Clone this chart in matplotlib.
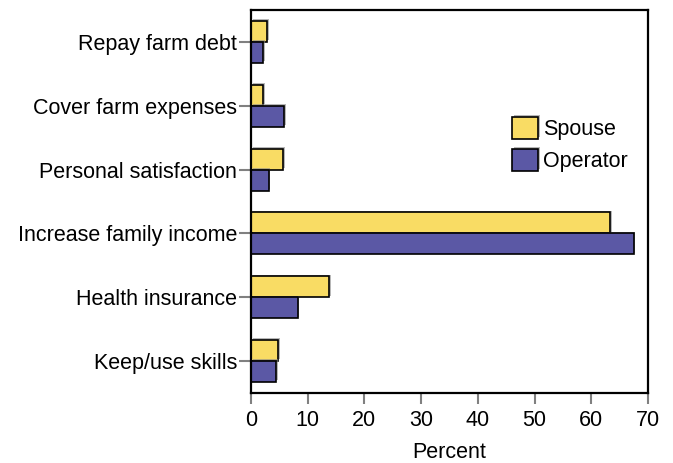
import matplotlib
matplotlib.use("Agg")
import matplotlib.pyplot as plt
import matplotlib.patheffects as pe
import numpy as np

plt.rcParams['font.family'] = ['Liberation Sans', 'DejaVu Sans']

categories = ["Repay farm debt", "Cover farm expenses", "Personal satisfaction",
              "Increase family income", "Health insurance", "Keep/use skills"]
spouse = [2.9, 2.2, 5.7, 63.3, 13.8, 4.8]
operator = [2.2, 5.8, 3.1, 67.5, 8.2, 4.4]
xticks = [0, 10, 20, 30, 40, 50, 60, 70]

yellow = "#F9DC64"
purple = "#5B58A5"

fig = plt.figure(figsize=(6.73, 4.63), dpi=100)
ax = fig.add_axes([251/673, 1-393/463, (648-251)/673, (393-10)/463])

y = np.arange(len(categories))
h = 0.33
shadow = [pe.SimplePatchShadow(offset=(1.2, 1.2), shadow_rgbFace='#888888', alpha=0.6), pe.Normal()]
b1 = ax.barh(y - h/2, spouse, height=h, color=yellow, edgecolor='black', linewidth=1.2,
             label="Spouse", path_effects=shadow)
b2 = ax.barh(y + h/2, operator, height=h, color=purple, edgecolor='black', linewidth=1.2,
             label="Operator", path_effects=shadow)

fs = 15.5
ax.set_ylim(len(categories) - 0.5, -0.5)
ax.set_xlim(0, 70)
ax.set_yticks(y)
ax.set_yticklabels(categories, fontsize=fs)
ax.set_xticks(xticks)
ax.set_xticklabels([str(t) for t in xticks], fontsize=fs)
ax.tick_params(axis='x', direction='out', length=8, width=1.5, color='#808080', pad=4)
ax.tick_params(axis='y', direction='out', length=9, width=1.5, color='#808080', pad=1)
for s in ax.spines.values():
    s.set_linewidth(1.6)
    s.set_color('black')
ax.set_xlabel("Percent", fontsize=fs, labelpad=8)

leg = ax.legend(handles=[b1, b2], loc='upper left', bbox_to_anchor=(512/673, 1-117/463),
                bbox_transform=fig.transFigure, frameon=False, fontsize=fs,
                handlelength=1.2, handleheight=1.2, labelspacing=0.4, handletextpad=0.25,
                borderaxespad=0, borderpad=0)

fig.savefig("out.png", dpi=100)
